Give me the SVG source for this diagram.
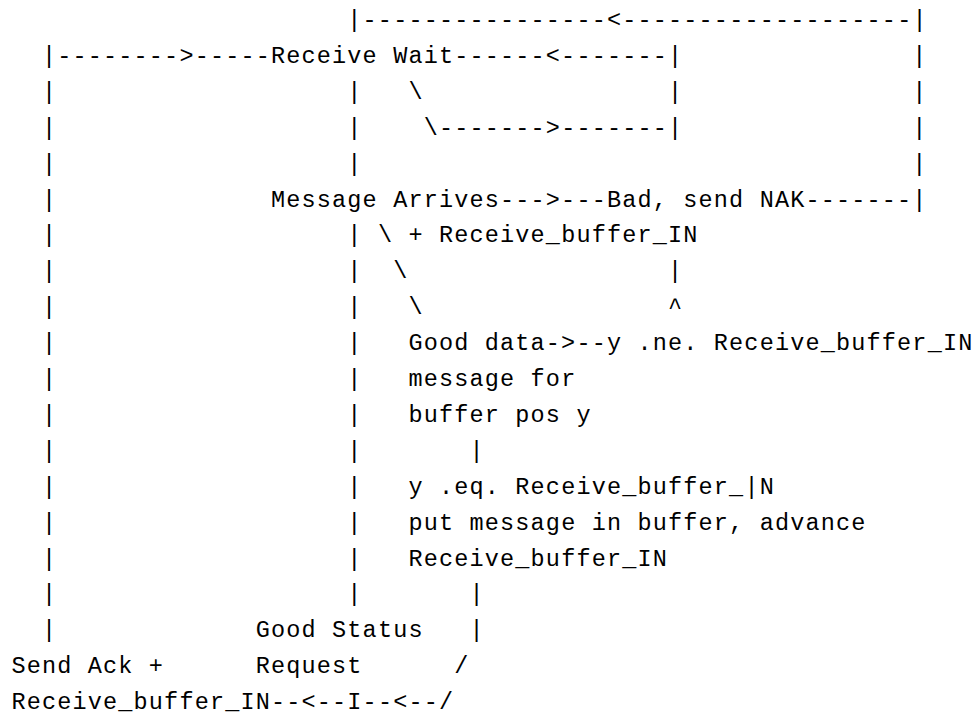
<svg xmlns="http://www.w3.org/2000/svg" width="977" height="719" viewBox="0 0 977 719">
<style>
text { font-family: "Liberation Mono", "DejaVu Sans Mono", monospace; font-size: 23.5px; letter-spacing: 1.17px; fill: #000; white-space: pre; }
</style>
<rect width="977" height="719" fill="#fff"/>
<g id="connectors">
  <text x="347.34" y="27">|----------------&lt;-------------------|</text>
  <text x="41.94" y="62.9">|--------&gt;-----</text>
  <text x="454.23" y="62.9">------&lt;-------|</text>
  <text x="912.33"><tspan x="912.33" y="62.9">|</tspan><tspan x="912.33" y="98.8">|</tspan><tspan x="912.33" y="134.7">|</tspan><tspan x="912.33" y="170.6">|</tspan></text>
  <text x="41.94"><tspan x="41.94" y="98.8">|</tspan><tspan x="41.94" y="134.7">|</tspan><tspan x="41.94" y="170.6">|</tspan><tspan x="41.94" y="206.5">|</tspan><tspan x="41.94" y="242.4">|</tspan><tspan x="41.94" y="278.3">|</tspan><tspan x="41.94" y="314.2">|</tspan><tspan x="41.94" y="350.1">|</tspan><tspan x="41.94" y="386">|</tspan><tspan x="41.94" y="421.9">|</tspan><tspan x="41.94" y="457.8">|</tspan><tspan x="41.94" y="493.7">|</tspan><tspan x="41.94" y="529.6">|</tspan><tspan x="41.94" y="565.5">|</tspan><tspan x="41.94" y="601.4">|</tspan><tspan x="41.94" y="637.3">|</tspan></text>
  <text x="347.34"><tspan x="347.34" y="98.8">|</tspan><tspan x="347.34" y="134.7">|</tspan><tspan x="347.34" y="170.6">|</tspan><tspan x="347.34" y="242.4">|</tspan><tspan x="347.34" y="278.3">|</tspan><tspan x="347.34" y="314.2">|</tspan><tspan x="347.34" y="350.1">|</tspan><tspan x="347.34" y="386">|</tspan><tspan x="347.34" y="421.9">|</tspan><tspan x="347.34" y="457.8">|</tspan><tspan x="347.34" y="493.7">|</tspan><tspan x="347.34" y="529.6">|</tspan><tspan x="347.34" y="565.5">|</tspan><tspan x="347.34" y="601.4">|</tspan></text>
  <text x="408.42" y="98.8">\</text>
  <text x="668.01" y="98.8">|</text>
  <text x="423.69" y="134.7">\-------&gt;-------|</text>
  <text x="500.04" y="206.5">---&gt;---</text>
  <text x="805.44" y="206.5">-------|</text>
  <text x="377.88" y="242.4">\</text>
  <text x="393.15" y="278.3">\</text>
  <text x="668.01" y="278.3">|</text>
  <text x="408.42" y="314.2">\</text>
  <text x="668.01" y="314.2">^</text>
  <text x="545.85" y="350.1">-&gt;--</text>
  <text x="469.5"><tspan x="469.5" y="457.8">|</tspan><tspan x="469.5" y="601.4">|</tspan><tspan x="469.5" y="637.3">|</tspan></text>
  <text x="454.23" y="673.2">/</text>
  <text x="270.99" y="709.1">--&lt;--I--&lt;--/</text>
</g>
<g id="receive-wait"><text x="270.99" y="62.9">Receive Wait</text></g>
<g id="message-arrives"><text x="270.99" y="206.5">Message Arrives</text></g>
<g id="bad-send-nak"><text x="606.93" y="206.5">Bad, send NAK</text></g>
<g id="plus-receive-buffer-in"><text x="408.42" y="242.4">+ Receive_buffer_IN</text></g>
<g id="good-data"><text x="408.42" y="350.1">Good data</text><text x="408.42" y="386">message for</text><text x="408.42" y="421.9">buffer pos y</text></g>
<g id="y-ne"><text x="606.93" y="350.1">y .ne. Receive_buffer_IN</text></g>
<g id="y-eq"><text x="408.42" y="493.7">y .eq. Receive_buffer_|N</text><text x="408.42" y="529.6">put message in buffer, advance</text><text x="408.42" y="565.5">Receive_buffer_IN</text></g>
<g id="good-status-request"><text x="255.72" y="637.3">Good Status</text><text x="255.72" y="673.2">Request</text></g>
<g id="send-ack"><text x="11.4" y="673.2">Send Ack +</text><text x="11.4" y="709.1">Receive_buffer_IN</text></g>
</svg>
